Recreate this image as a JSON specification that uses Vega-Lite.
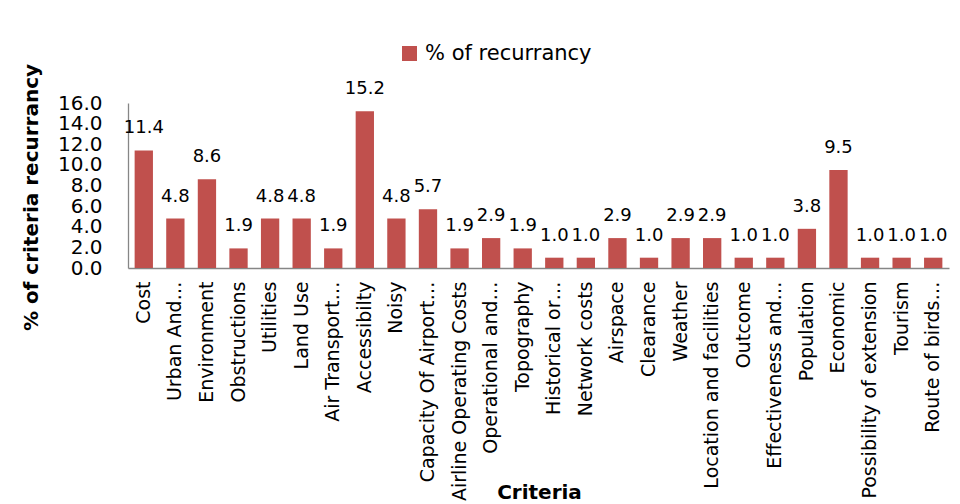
{
  "$schema": "https://vega.github.io/schema/vega-lite/v6.json",
  "autosize": {"type": "none"},
  "padding": {"left": 128, "top": 103, "right": 11, "bottom": 236},
  "width": 821,
  "height": 165,
  "background": "white",
  "config": {
    "view": {"stroke": null},
    "font": "DejaVu Sans",
    "axis": {"domainColor": "#868686", "domainWidth": 1.3, "labelColor": "#000000", "titleColor": "#000000", "grid": false, "ticks": false, "tickSize": 0}
  },
  "data": {
    "values": [
      {"criteria": "Cost", "value": 11.4, "series": "% of recurrancy"},
      {"criteria": "Urban And…", "value": 4.8, "series": "% of recurrancy"},
      {"criteria": "Environment", "value": 8.6, "series": "% of recurrancy"},
      {"criteria": "Obstructions", "value": 1.9, "series": "% of recurrancy"},
      {"criteria": "Utilities", "value": 4.8, "series": "% of recurrancy"},
      {"criteria": "Land Use", "value": 4.8, "series": "% of recurrancy"},
      {"criteria": "Air Transport…", "value": 1.9, "series": "% of recurrancy"},
      {"criteria": "Accessibilty", "value": 15.2, "series": "% of recurrancy"},
      {"criteria": "Noisy", "value": 4.8, "series": "% of recurrancy"},
      {"criteria": "Capacity Of Airport…", "value": 5.7, "series": "% of recurrancy"},
      {"criteria": "Airline Operating Costs", "value": 1.9, "series": "% of recurrancy"},
      {"criteria": "Operational and…", "value": 2.9, "series": "% of recurrancy"},
      {"criteria": "Topography", "value": 1.9, "series": "% of recurrancy"},
      {"criteria": "Historical or…", "value": 1.0, "series": "% of recurrancy"},
      {"criteria": "Network costs", "value": 1.0, "series": "% of recurrancy"},
      {"criteria": "Airspace", "value": 2.9, "series": "% of recurrancy"},
      {"criteria": "Clearance", "value": 1.0, "series": "% of recurrancy"},
      {"criteria": "Weather", "value": 2.9, "series": "% of recurrancy"},
      {"criteria": "Location and facilities", "value": 2.9, "series": "% of recurrancy"},
      {"criteria": "Outcome", "value": 1.0, "series": "% of recurrancy"},
      {"criteria": "Effectiveness and…", "value": 1.0, "series": "% of recurrancy"},
      {"criteria": "Population", "value": 3.8, "series": "% of recurrancy"},
      {"criteria": "Economic", "value": 9.5, "series": "% of recurrancy"},
      {"criteria": "Possibility of extension", "value": 1.0, "series": "% of recurrancy"},
      {"criteria": "Tourism", "value": 1.0, "series": "% of recurrancy"},
      {"criteria": "Route of birds…", "value": 1.0, "series": "% of recurrancy"}
    ]
  },
  "encoding": {
    "x": {
      "field": "criteria", "type": "nominal", "sort": null,
      "scale": {"paddingInner": 0.42, "paddingOuter": 0.21},
      "axis": {
        "title": "Criteria", "titleFont": "DejaVu Sans", "titleFontSize": 20, "titleFontWeight": "bold",
        "titleBaseline": "alphabetic", "titleY": 230, "titleX": 411,
        "labelAngle": -90, "labelFontSize": 19, "labelPadding": 13, "labelLimit": 500, "labelOverlap": false
      }
    },
    "y": {
      "field": "value", "type": "quantitative",
      "scale": {"domain": [0, 16], "nice": false},
      "axis": {
        "title": "% of criteria recurrancy", "titleFontSize": 20, "titleFontWeight": "bold",
        "titleBaseline": "alphabetic", "titleX": -91, "titleY": 94, "titleAngle": -90,
        "values": [0, 2, 4, 6, 8, 10, 12, 14, 16], "format": ".1f",
        "labelFontSize": 20, "labelPadding": 26, "labelOverlap": false, "labelFlush": false
      }
    }
  },
  "layer": [
    {
      "mark": {"type": "bar", "color": "#C0504D"},
      "encoding": {
        "color": {
          "field": "series", "type": "nominal",
          "scale": {"range": ["#C0504D"]},
          "legend": {
            "title": null, "orient": "none", "legendX": 271, "legendY": -60,
            "symbolType": "square", "symbolSize": 225, "symbolStrokeWidth": 0,
            "labelFontSize": 21, "labelOffset": 5, "labelLimit": 400, "padding": 0, "labelColor": "#000000"
          }
        }
      }
    },
    {
      "mark": {"type": "text", "fontSize": 18, "baseline": "alphabetic", "dy": -17, "color": "#000000"},
      "encoding": {
        "text": {"field": "value", "type": "quantitative", "format": ".1f"}
      }
    }
  ]
}
